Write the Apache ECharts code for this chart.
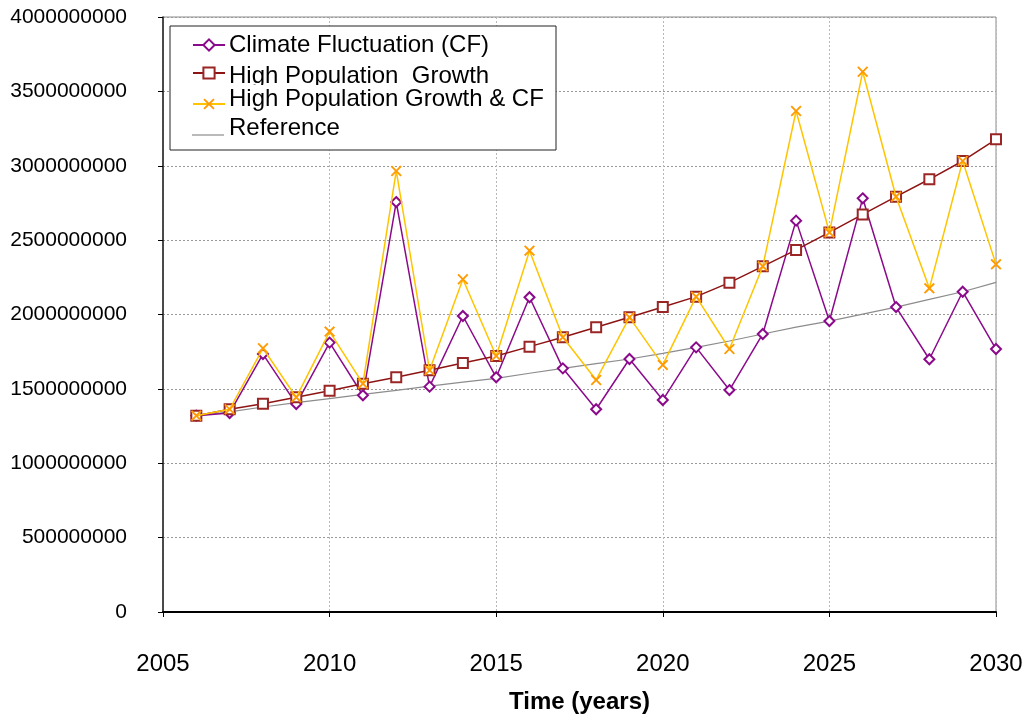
<!DOCTYPE html>
<html>
<head>
<meta charset="utf-8">
<script src="https://cdn.jsdelivr.net/npm/echarts@6/dist/echarts.min.js"></script>
<style>html,body{margin:0;padding:0;background:#fff}#c{width:1026px;height:717px}</style>
</head>
<body>
<div id="c"></div>
<script>
const years = [2006,2007,2008,2009,2010,2011,2012,2013,2014,2015,2016,2017,2018,2019,2020,2021,2022,2023,2024,2025,2026,2027,2028,2029,2030];
const climateFluctuation = [1320000000,1338000000,1734000000,1398000000,1811000000,1457000000,2756000000,1515000000,1990000000,1578000000,2116000000,1638000000,1363000000,1701000000,1425000000,1779000000,1492000000,1869000000,2631000000,1956000000,2781000000,2050000000,1699000000,2153000000,1768000000];
const highPopGrowth = [1320000000,1363000000,1400000000,1443000000,1488000000,1535000000,1578000000,1625000000,1674000000,1721000000,1784000000,1847000000,1914000000,1981000000,2050000000,2120000000,2214000000,2324000000,2434000000,2552000000,2673000000,2792000000,2909000000,3032000000,3178000000];
const highPopGrowthCF = [1320000000,1363000000,1773000000,1443000000,1885000000,1535000000,2965000000,1625000000,2237000000,1721000000,2429000000,1847000000,1560000000,1981000000,1661000000,2120000000,1768000000,2324000000,3368000000,2552000000,3632000000,2792000000,2176000000,3032000000,2337000000];
const reference = [1318000000,1345000000,1378000000,1407000000,1435000000,1463000000,1490000000,1519000000,1545000000,1570000000,1605000000,1638000000,1670000000,1701000000,1739000000,1779000000,1822000000,1869000000,1915000000,1956000000,2003000000,2050000000,2102000000,2153000000,2216000000];
const seriesNames = ['Climate Fluctuation (CF)','High Population  Growth','High Population Growth & CF','Reference'];
const xTicks = {min:2005, max:2030, interval:5};
const yTicks = {min:0, max:4000000000, interval:500000000};

const FONT = "'Liberation Sans', Arial, sans-serif";
const pair = arr => years.map((y,i)=>[y, arr[i]]);
const XPATH = 'path://M0,1.2 L1.2,0 L5,3.8 L8.8,0 L10,1.2 L6.2,5 L10,8.8 L8.8,10 L5,6.2 L1.2,10 L0,8.8 L3.8,5 Z';

const chart = echarts.init(document.getElementById('c'), null, {renderer:'canvas'});
function legIcon(name, centerY, opts) {
  const h = (opts && opts.h) || 14;
  return Object.assign({
    data:[name], left:192, top:centerY - h/2, orient:'vertical', padding:0,
    itemWidth:32, itemHeight:h, itemGap:0, z:10, selectedMode:false,
    formatter:()=>'', textStyle:{fontSize:1}
  }, opts && opts.extra || {});
}
function legText(name, centerY, z, bg) {
  return {
    data:[name], left:192, top:centerY - 14, orient:'vertical', padding:0,
    itemWidth:32, itemHeight:28, itemGap:0, z:z, selectedMode:false,
    itemStyle:{opacity:0}, lineStyle:{opacity:0}, icon:'rect',
    textStyle:{fontFamily:FONT, fontSize:24, color:'#000', backgroundColor:bg||'transparent', padding:[1,0,0,0], height:28, lineHeight:28}
  };
}
chart.setOption({
  animation:false,
  backgroundColor:'#fff',
  grid:{left:163, right:30, top:17, bottom:105, show:true, borderColor:'#8c8c8c', borderWidth:1, containLabel:false, outerBoundsMode:'none'},
  legend:[
    legIcon(seriesNames[0], 45),
    legIcon(seriesNames[1], 73),
    legIcon(seriesNames[2], 104),
    legIcon(seriesNames[3], 135, {h:1.2, extra:{icon:'rect'}}),
    legText(seriesNames[0], 45, 11),
    legText(seriesNames[1], 76, 11),
    legText(seriesNames[2], 99, 12, '#fff'),
    legText(seriesNames[3], 128, 13)
  ],
  graphic:[{type:'rect', shape:{x:170, y:26, width:386, height:124}, style:{fill:'#fff', stroke:'#222', lineWidth:1}, z:5}],
  xAxis:{
    type:'value', min:xTicks.min, max:xTicks.max, interval:xTicks.interval,
    name:'Time (years)', nameLocation:'middle', nameGap:78,
    nameTextStyle:{fontFamily:FONT, fontSize:24, fontWeight:'bold', color:'#000'},
    axisLine:{show:true, lineStyle:{color:'#000', width:2}},
    axisTick:{show:true, length:5, lineStyle:{color:'#000'}},
    axisLabel:{fontFamily:FONT, fontSize:24, color:'#000', margin:40, formatter:v=>String(v)},
    splitLine:{show:true, lineStyle:{color:'#b8b8b8', type:[2,2], width:1}}
  },
  yAxis:{
    type:'value', min:yTicks.min, max:yTicks.max, interval:yTicks.interval,
    axisLine:{show:true, lineStyle:{color:'#222', width:1.5}},
    axisTick:{show:true, length:5, lineStyle:{color:'#000'}},
    axisLabel:{fontFamily:FONT, fontSize:21, color:'#000', margin:36, lineHeight:26, padding:[5,0,0,0], formatter:v=>String(v)},
    splitLine:{show:true, lineStyle:{color:'#9a9a9a', type:[2,2], width:1}}
  },
  series:[
    {name:seriesNames[3], type:'line', data:pair(reference), symbol:'none', smooth:false,
     lineStyle:{color:'#8c8c8c', width:1.2}, itemStyle:{color:'#8c8c8c'}, z:2},
    {name:seriesNames[0], type:'line', data:pair(climateFluctuation), symbol:'emptyDiamond', symbolSize:10,
     lineStyle:{color:'#8B0A8B', width:1.5}, itemStyle:{color:'#8B0A8B', borderWidth:1.2}, z:3},
    {name:seriesNames[1], type:'line', data:pair(highPopGrowth), symbol:'emptyRect', symbolSize:10,
     lineStyle:{color:'#8E1414', width:1.5}, itemStyle:{color:'#9A2525', borderWidth:1.5}, z:4},
    {name:seriesNames[2], type:'line', data:pair(highPopGrowthCF), symbol:XPATH, symbolSize:11,
     lineStyle:{color:'#FFC400', width:1.5}, itemStyle:{color:'#FF9A00'}, z:5}
  ]
});
</script>
</body>
</html>
